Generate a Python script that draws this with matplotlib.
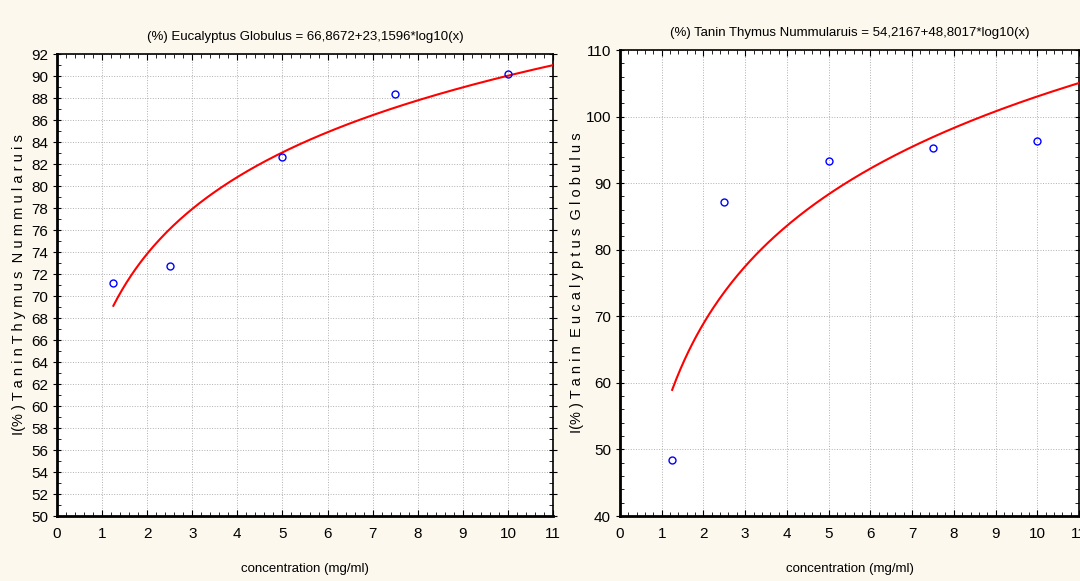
import numpy as np
import matplotlib
matplotlib.use('Agg')
import matplotlib.pyplot as plt
from matplotlib.ticker import MultipleLocator

plt.rcParams['font.family'] = ['Liberation Sans', 'DejaVu Sans']

conc = [1.25, 2.5, 5, 7.5, 10]
inh_thymus = [71.2, 72.7, 82.6, 88.4, 90.2]
inh_euca = [48.4, 87.2, 93.3, 95.3, 96.4]

fit_left = (66.8672, 23.1596)
fit_right = (54.2167, 48.8017)

title_left = '(%) Eucalyptus Globulus = 66,8672+23,1596*log10(x)'
title_right = '(%) Tanin Thymus Nummularuis = 54,2167+48,8017*log10(x)'
ylab_left = 'I(% ) T a n i n T h y m u s  N u m m u l a r u i s'
ylab_right = 'I(% ) T a n i n  E u c a l y p t u s  G l o b u l u s'

bg = '#fcf8ee'
fig = plt.figure(figsize=(10.8, 5.81), dpi=100, facecolor=bg)
ax1 = fig.add_axes([57/1080, 65/581, 496/1080, 462/581])
ax2 = fig.add_axes([620/1080, 65/581, 459/1080, 466/581])


def draw(ax, y, fit, title, ylab, ylim, ystep, yminor, ylab_x):
    xs = np.linspace(1.25, 11, 200)
    ax.plot(xs, fit[0] + fit[1]*np.log10(xs), color='red', lw=1.5, zorder=3)
    ax.plot(conc, y, 'o', mfc='none', mec='blue', ms=5, mew=1.0, zorder=4)
    ax.set_xlim(0, 11)
    ax.set_ylim(*ylim)
    ax.xaxis.set_major_locator(MultipleLocator(1))
    ax.xaxis.set_minor_locator(MultipleLocator(0.2))
    ax.yaxis.set_major_locator(MultipleLocator(ystep))
    ax.yaxis.set_minor_locator(MultipleLocator(yminor))
    ax.grid(True, which='major', ls=':', color='#b0b0b0', lw=0.7)
    ax.tick_params(which='both', direction='in', top=True, right=True, labelsize=11)
    ax.tick_params(axis='y', which='major', direction='inout', length=6)
    ax.tick_params(which='minor', length=3)
    ax.tick_params(axis='x', which='major', length=4, pad=8)
    for s in ax.spines.values():
        s.set_linewidth(1.2)
    ax.spines['left'].set_linewidth(2)
    ax.spines['bottom'].set_linewidth(2)
    ax.set_title(title, fontsize=9.5, pad=10)
    ax.set_xlabel('concentration (mg/ml)', fontsize=9.5, labelpad=16)
    ax.set_ylabel(ylab, fontsize=10.5)
    ax.yaxis.set_label_coords(ylab_x, 0.5)


draw(ax1, inh_thymus, fit_left, title_left, ylab_left, (50, 92), 2, 1, -0.062)
draw(ax2, inh_euca, fit_right, title_right, ylab_right, (40, 110), 10, 2, -0.078)

fig.savefig('out.png', dpi=100, facecolor=bg)
